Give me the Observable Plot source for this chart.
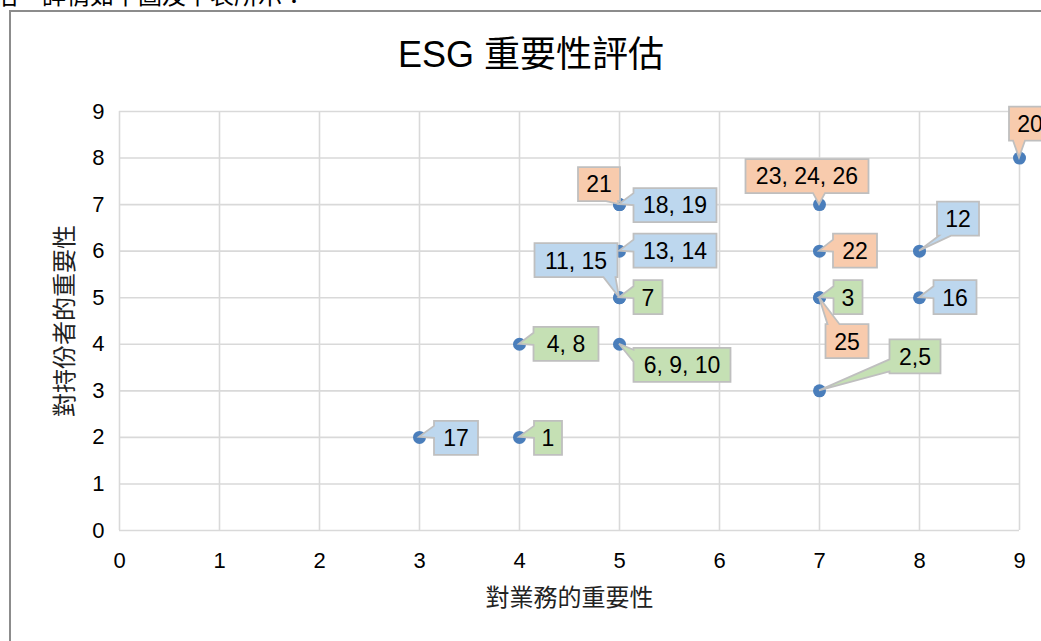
<!DOCTYPE html>
<html><head><meta charset="utf-8">
<script src="https://cdn.jsdelivr.net/npm/d3@7"></script>
<script src="https://cdn.jsdelivr.net/npm/@observablehq/plot@0.6"></script>
<style>
body{margin:0;background:#fff;width:1041px;height:641px;overflow:hidden;position:relative;font-family:"Liberation Sans",Arial,"Noto Sans CJK TC",sans-serif;}
#intro{position:absolute;left:-6px;top:-18px;font-size:24px;line-height:24px;font-family:"Noto Sans CJK TC",sans-serif;white-space:nowrap;color:#000}
#frame{position:absolute;left:9px;top:10px;width:1100px;height:700px;border:2px solid #8c8c8c;}
#title{position:absolute;left:0;width:1062px;top:34px;text-align:center;font-size:36px;line-height:42px;font-family:"Liberation Sans","Noto Sans CJK TC",sans-serif;color:#000}
#chart{position:absolute;left:0;top:0}
</style></head>
<body>
<div id="intro">估，詳情如下圖及下表所示：</div>
<div id="frame"></div>
<div id="chart"></div>
<div id="title">ESG 重要性評估</div>
<script>
// ---- data ----
const titleText = "ESG 重要性評估";
const xTitle = "對業務的重要性";
const yTitle = "對持份者的重要性";
const ticks = [0,1,2,3,4,5,6,7,8,9];
const labels      = ["17","1","4, 8","6, 9, 10","7","11, 15","13, 14","18, 19","21","23, 24, 26","22","3","25","2,5","12","16","20"];
const business    = [3,4,4,5,5,5,5,5,5,7,7,7,7,7,8,8,9];
const stakeholder = [2,2,4,4,5,5,6,7,7,7,6,5,5,3,6,5,8];
const group       = ["blue","green","green","green","green","blue","blue","blue","orange","orange","orange","green","orange","green","blue","blue","orange"];

// ---- layout (callout placement, px) ----
const calloutOffset = [[37,1],[29,1],[47,0],[63,21],[29,0],[-43,-37],[56,0],[56,1],[-20,-20],[-12,-28],[36,0],[29,0],[28,44],[96,-34],[39,-32],[36,0],[11,-34]];
const calloutWidth  = [44,28,65,97,29,83,83,83,42,123,44,29,43,51,42,43,42];
const fills = {blue:"#bdd7ee", green:"#c5e0b4", orange:"#f8cbad"};

const points = business.map((b,i)=>({x:b, y:stakeholder[i], label:labels[i], group:group[i]}));

const gridStyle = {stroke:"#d9d9d9", strokeOpacity:1, strokeWidth:1.6};
const plot = Plot.plot({
  width:1041, height:641,
  marginLeft:119, marginRight:22, marginTop:111, marginBottom:111,
  x:{domain:[0,9]},
  y:{domain:[0,9]},
  style:{fontFamily:'"Liberation Sans",Arial,sans-serif', fontSize:"22px", color:"#000", background:"transparent", overflow:"hidden"},
  marks:[
    Plot.gridX(ticks, gridStyle),
    Plot.gridY(ticks, gridStyle),
    Plot.axisX(ticks, {tickSize:0, tickPadding:22, fontSize:22, label:null}),
    Plot.axisY(ticks, {tickSize:0, tickPadding:15, fontSize:22, label:null}),
    Plot.dot(points, {x:"x", y:"y", r:6.5, fill:"#4a7ebb", stroke:"none"}),
    Plot.text([xTitle], {frameAnchor:"bottom", dy:68, lineAnchor:"middle", textAnchor:"middle", fontSize:24, fontFamily:'"Noto Sans CJK TC",sans-serif', fill:"#222"}),
    Plot.text([yTitle], {frameAnchor:"left", dx:-54, rotate:-90, lineAnchor:"middle", textAnchor:"middle", fontSize:24, fontFamily:'"Noto Sans CJK TC",sans-serif', fill:"#222"})
  ]
});
document.getElementById("chart").appendChild(plot);

// callouts drawn on top using the plot's own scales
const sx = plot.scale("x"), sy = plot.scale("y");
const g = d3.select(plot).append("g");
const H = 34, BW = 12;
const clamp = (v,a,b)=>Math.max(a,Math.min(b,v));
points.forEach((p,i)=>{
  const tx = sx.apply(p.x), ty = sy.apply(p.y);
  const [dx,dy] = calloutOffset[i];
  const w = calloutWidth[i];
  const cx = tx+dx, cy = ty+dy;
  const x0 = cx-w/2, x1 = cx+w/2, y0 = cy-H/2, y1 = cy+H/2;
  const rx = (tx-cx)/(w/2), ry = (ty-cy)/(H/2);
  let pts;
  if (Math.abs(rx) >= Math.abs(ry)) {
    const bc = clamp(ty-5, y0+BW/2+2, y1-BW/2-2);
    if (rx < 0) pts = [[x0,y0],[x1,y0],[x1,y1],[x0,y1],[x0,bc+BW/2],[tx,ty],[x0,bc-BW/2]];
    else pts = [[x0,y0],[x1,y0],[x1,bc-BW/2],[tx,ty],[x1,bc+BW/2],[x1,y1],[x0,y1]];
  } else {
    const bc = clamp(tx, x0+BW/2+2, x1-BW/2-2);
    if (ry < 0) pts = [[x0,y0],[bc-BW/2,y0],[tx,ty],[bc+BW/2,y0],[x1,y0],[x1,y1],[x0,y1]];
    else pts = [[x0,y0],[x1,y0],[x1,y1],[bc+BW/2,y1],[tx,ty],[bc-BW/2,y1],[x0,y1]];
  }
  g.append("path")
    .attr("d", "M"+pts.map(q=>q.join(",")).join("L")+"Z")
    .attr("fill", fills[p.group]).attr("stroke","#bfbfbf").attr("stroke-width",1.8)
    .attr("stroke-linejoin","miter");
  g.append("text")
    .attr("x", cx).attr("y", cy).attr("dy","0.36em")
    .attr("text-anchor","middle")
    .attr("font-size",23).attr("fill","#000")
    .attr("font-family",'"Liberation Sans",Arial,sans-serif')
    .text(p.label);
});
</script>
</body></html>
